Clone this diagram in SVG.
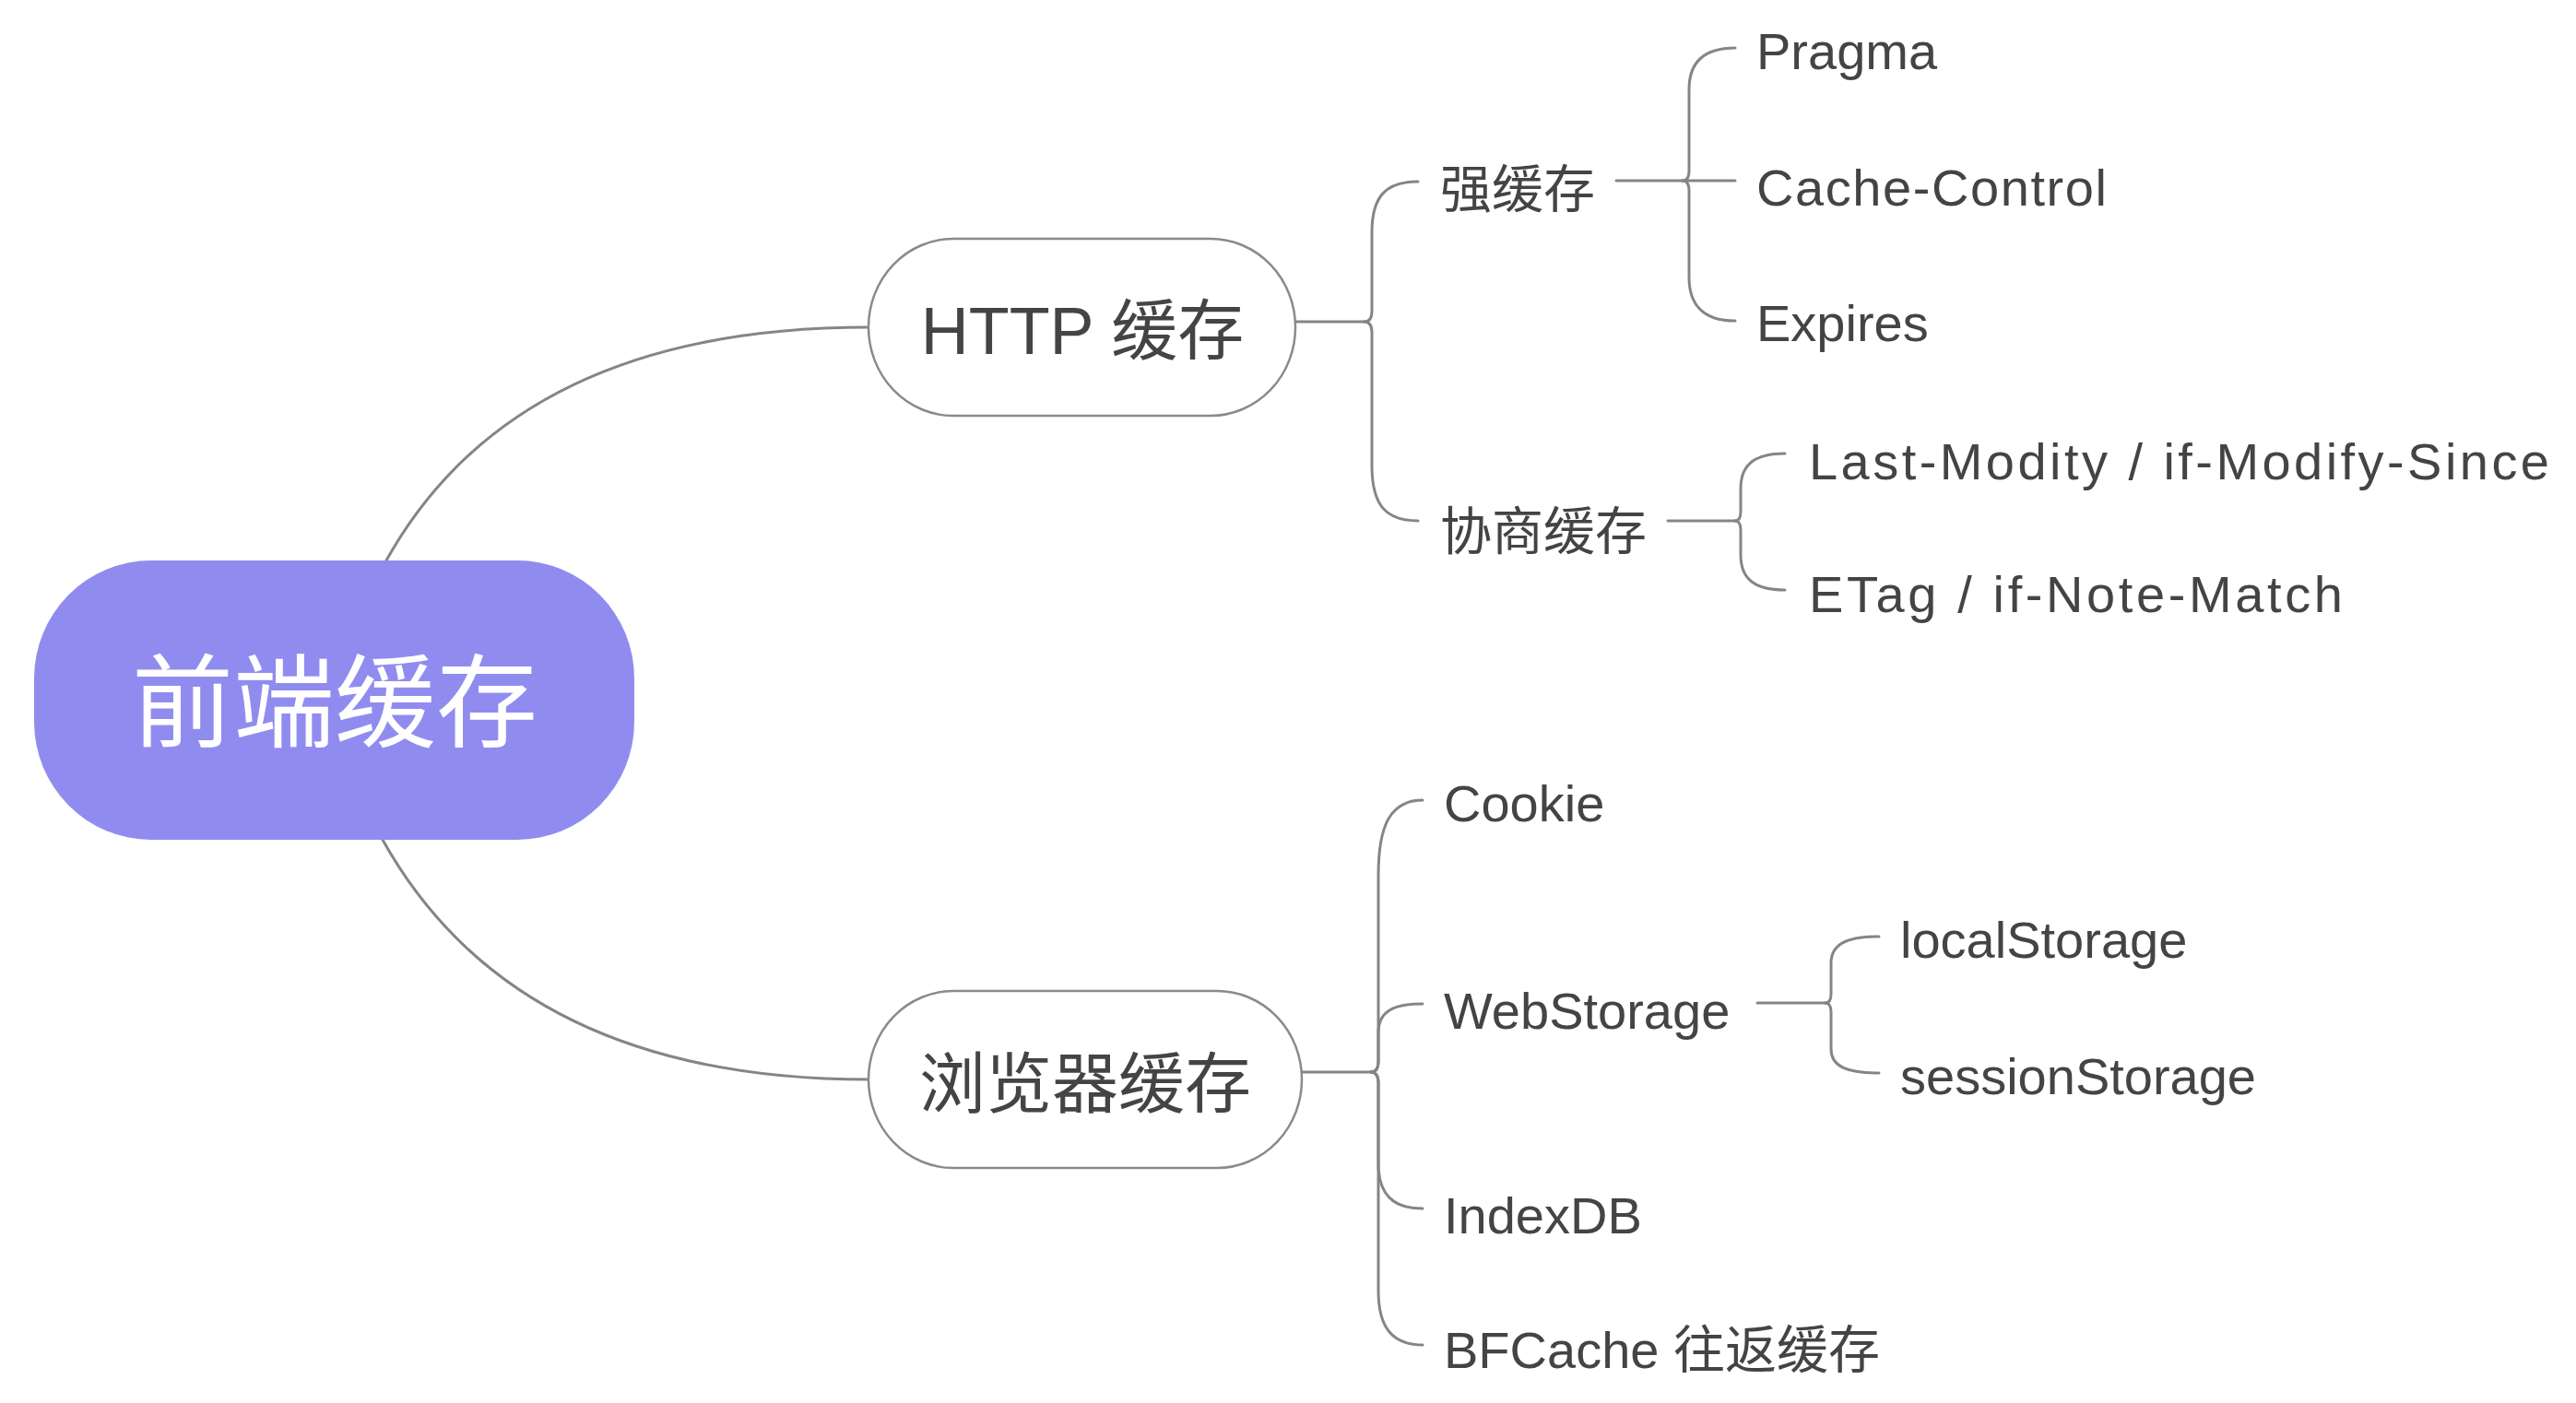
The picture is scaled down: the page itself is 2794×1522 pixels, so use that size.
<svg xmlns="http://www.w3.org/2000/svg" width="2794" height="1522" viewBox="0 0 2794 1522">
  <style>
    .bg { fill: #ffffff; }
    .conn { fill: none; stroke: #858585; stroke-width: 3; stroke-linecap: round; stroke-linejoin: round; }
    .node1 { fill: #ffffff; stroke: #8a8a8a; stroke-width: 2.5; }
    .root { fill: #908cef; }
    .t { font-family: "Liberation Sans", "Noto Sans CJK SC", sans-serif; fill: #444444; }
    .t0 { font-size: 110px; fill: #ffffff; text-anchor: middle; }
    .t1 { font-size: 72px; text-anchor: middle; }
    .t2 { font-size: 56px; }
  </style>
  <rect class="bg" x="0" y="0" width="2794" height="1522"/>

  <g id="connectors">
    <!-- root to level 1 -->
    <path class="conn" d="M 419 608 Q 560 355 942 355"/>
    <path class="conn" d="M 415 911 Q 560 1171 942 1171"/>
    <!-- HTTP cache -->
    <path class="conn" d="M 1405 349 L 1480 349"/>
    <path class="conn" d="M 1480 349 Q 1488 349 1488 337 L 1488 252 C 1488 213 1503 197 1538 197"/>
    <path class="conn" d="M 1480 349 Q 1488 349 1488 361 L 1488 505 C 1488 548 1503 565 1538 565"/>
    <!-- strong cache -->
    <path class="conn" d="M 1753 196 L 1825 196"/>
    <path class="conn" d="M 1825 196 Q 1832 196 1832 185 L 1832 97 C 1832 70 1845 52 1882 52"/>
    <path class="conn" d="M 1825 196 L 1882 196"/>
    <path class="conn" d="M 1825 196 Q 1832 196 1832 207 L 1832 301 C 1832 328 1845 348 1882 348"/>
    <!-- negotiated cache -->
    <path class="conn" d="M 1809 565 L 1882 565"/>
    <path class="conn" d="M 1882 565 Q 1888 565 1888 555 L 1888 530 C 1888 504 1903 492 1936 492"/>
    <path class="conn" d="M 1882 565 Q 1888 565 1888 575 L 1888 602 C 1888 628 1903 640 1936 640"/>
    <!-- browser cache -->
    <path class="conn" d="M 1412 1163 L 1487 1163"/>
    <path class="conn" d="M 1487 1163 Q 1495 1163 1495 1151 L 1495 950 C 1495 895 1508 868 1543 868"/>
    <path class="conn" d="M 1487 1163 Q 1495 1163 1495 1151 L 1495 1120 C 1495 1098 1510 1089 1543 1089"/>
    <path class="conn" d="M 1487 1163 Q 1495 1163 1495 1175 L 1495 1262 C 1495 1295 1510 1311 1543 1311"/>
    <path class="conn" d="M 1487 1163 Q 1495 1163 1495 1175 L 1495 1400 C 1495 1440 1510 1459 1543 1459"/>
    <!-- web storage -->
    <path class="conn" d="M 1906 1088 L 1980 1088"/>
    <path class="conn" d="M 1980 1088 Q 1986 1088 1986 1078 L 1986 1045 C 1986 1024 2003 1016 2038 1016"/>
    <path class="conn" d="M 1980 1088 Q 1986 1088 1986 1098 L 1986 1138 C 1986 1157 2003 1164 2038 1164"/>
  </g>

  <g id="node-root">
    <rect class="root" x="37" y="608" width="651" height="303" rx="127" ry="128"/>
    <text class="t t0" x="363" y="802">前端缓存</text>
  </g>

  <g id="node-http">
    <rect class="node1" x="942" y="259" width="463" height="192" rx="92" ry="96"/>
    <text class="t t1" x="1174" y="384">HTTP 缓存</text>
  </g>

  <g id="node-browser">
    <rect class="node1" x="942" y="1075" width="470" height="192" rx="92" ry="96"/>
    <text class="t t1" x="1177" y="1201">浏览器缓存</text>
  </g>

  <g id="node-strong">
    <text class="t t2" x="1562" y="225">强缓存</text>
  </g>
  <g id="node-negotiate">
    <text class="t t2" x="1562" y="596">协商缓存</text>
  </g>
  <g id="node-pragma">
    <text class="t t2" x="1905" y="75">Pragma</text>
  </g>
  <g id="node-cache-control">
    <text class="t t2" x="1905" y="223" textLength="380" lengthAdjust="spacing">Cache-Control</text>
  </g>
  <g id="node-expires">
    <text class="t t2" x="1905" y="370">Expires</text>
  </g>
  <g id="node-last-modified">
    <text class="t t2" x="1962" y="520" textLength="803" lengthAdjust="spacing">Last-Modity / if-Modify-Since</text>
  </g>
  <g id="node-etag">
    <text class="t t2" x="1962" y="664" textLength="579" lengthAdjust="spacing">ETag / if-Note-Match</text>
  </g>
  <g id="node-cookie">
    <text class="t t2" x="1566" y="891">Cookie</text>
  </g>
  <g id="node-webstorage">
    <text class="t t2" x="1566" y="1116">WebStorage</text>
  </g>
  <g id="node-localstorage">
    <text class="t t2" x="2061" y="1039">localStorage</text>
  </g>
  <g id="node-sessionstorage">
    <text class="t t2" x="2061" y="1187">sessionStorage</text>
  </g>
  <g id="node-indexdb">
    <text class="t t2" x="1566" y="1338">IndexDB</text>
  </g>
  <g id="node-bfcache">
    <text class="t t2" x="1566" y="1484">BFCache 往返缓存</text>
  </g>
</svg>
